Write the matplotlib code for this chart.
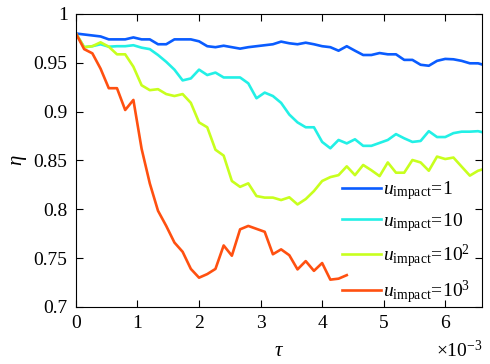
import matplotlib
matplotlib.use("Agg")
import matplotlib.pyplot as plt
from matplotlib.ticker import FuncFormatter

# données (tau en unités de 1e-3)
tau = [0, 0.1333, 0.2667, 0.4, 0.5333, 0.6667, 0.8, 0.9333, 1.0667, 1.2,
       1.3333, 1.4667, 1.6, 1.7333, 1.8667, 2.0, 2.1333, 2.2667, 2.4, 2.5333,
       2.6667, 2.8, 2.9333, 3.0667, 3.2, 3.3333, 3.4667, 3.6, 3.7333, 3.8667,
       4.0, 4.1333, 4.2667, 4.4, 4.5333, 4.6667, 4.8, 4.9333, 5.0667, 5.2,
       5.3333, 5.4667, 5.6, 5.7333, 5.8667, 6.0, 6.1333, 6.2667, 6.4, 6.5333,
       6.6667]

eta_1 = [.980, .979, .978, .977, .974, .974, .974, .976, .974, .974,
         .969, .969, .974, .974, .974, .972, .967, .966, .9675, .966,
         .9645, .966, .967, .968, .969, .9717, .970, .969, .9706, .969,
         .967, .966, .9624, .967, .9624, .958, .958, .960, .9587, .9587,
         .953, .953, .948, .947, .952, .954, .9536, .952, .9495, .9495,
         .947]
eta_10 = [.980, .966, .967, .969, .9665, .967, .967, .968, .9655, .964,
          .958, .951, .943, .932, .934, .943, .9375, .94, .935, .935,
          .935, .929, .9137, .9195, .916, .909, .897, .889, .884, .884,
          .869, .8625, .871, .8675, .8717, .865, .865, .868, .871, .877,
          .8727, .869, .870, .880, .874, .874, .878, .8795, .8795, .880,
          .878]
eta_100 = [.980, .966, .967, .971, .9665, .9587, .9587, .946, .927, .922,
           .923, .918, .916, .918, .909, .889, .884, .861, .855, .829,
           .823, .8266, .8136, .812, .812, .8095, .8123, .805, .8105, .8187,
           .829, .833, .835, .844, .835, .8454, .840, .834, .848, .8375,
           .8375, .8505, .848, .8395, .854, .8515, .853, .8437, .8345, .8395,
           .842]
eta_1000 = [.980, .964, .9597, .944, .924, .924, .9017, .912, .862, .8265,
            .7985, .783, .766, .7565, .739, .730, .7337, .739, .763, .7525,
            .7795, .783, .780, .777, .754, .759, .753, .7385, .747, .737,
            .745, .728, .729, .7326]

labels = [r"$u_{\rm impact}\!=\!1$", r"$u_{\rm impact}\!=\!10$",
          r"$u_{\rm impact}\!=\!10^2$", r"$u_{\rm impact}\!=\!10^3$"]
couleurs = ["#0A5CFF", "#22F0E6", "#C8FF1E", "#FF5010"]

plt.rcParams["font.family"] = ["Liberation Serif", "DejaVu Serif"]
plt.rcParams["mathtext.fontset"] = "custom"
plt.rcParams["mathtext.rm"] = "Liberation Serif"
plt.rcParams["mathtext.it"] = "Liberation Serif:italic"
plt.rcParams["font.size"] = 14

fig = plt.figure(figsize=(4.9, 3.64), dpi=100)
ax = fig.add_axes([0.155, 0.1566, 0.829, 0.805])

series = [eta_1, eta_10, eta_100, eta_1000]
for y, c, lab in zip(series, couleurs, labels):
    ax.plot(tau[:len(y)], y, color=c, lw=1.9, label=lab)

ax.set_xlim(0, 6.6)
ax.set_ylim(0.7, 1.0)
ax.set_xticks(range(0, 7))
ax.set_yticks([0.7, 0.75, 0.8, 0.85, 0.9, 0.95, 1.0])
ax.yaxis.set_major_formatter(FuncFormatter(lambda v, p: "%g" % v))
ax.tick_params(direction="in", top=True, right=True, length=5, width=0.8,
               labelsize=14, pad=6)
for s in ax.spines.values():
    s.set_linewidth(0.8)

ax.set_xlabel(r"$\tau$", fontsize=15)
ax.set_ylabel(r"$\eta$", fontsize=15)
ax.xaxis.set_label_coords(0.5, -0.12)
ax.yaxis.set_label_coords(-0.115, 0.5)
ax.text(1.0, -0.172, r"$\times10^{-3}$", transform=ax.transAxes,
        ha="right", va="baseline", fontsize=14)

ax.legend(loc="lower right", bbox_to_anchor=(1.0, -0.035), frameon=False,
          fontsize=14, handlelength=2.0, handletextpad=0.1,
          labelspacing=0.45, borderaxespad=0.2)

fig.savefig("out.png", dpi=100)
